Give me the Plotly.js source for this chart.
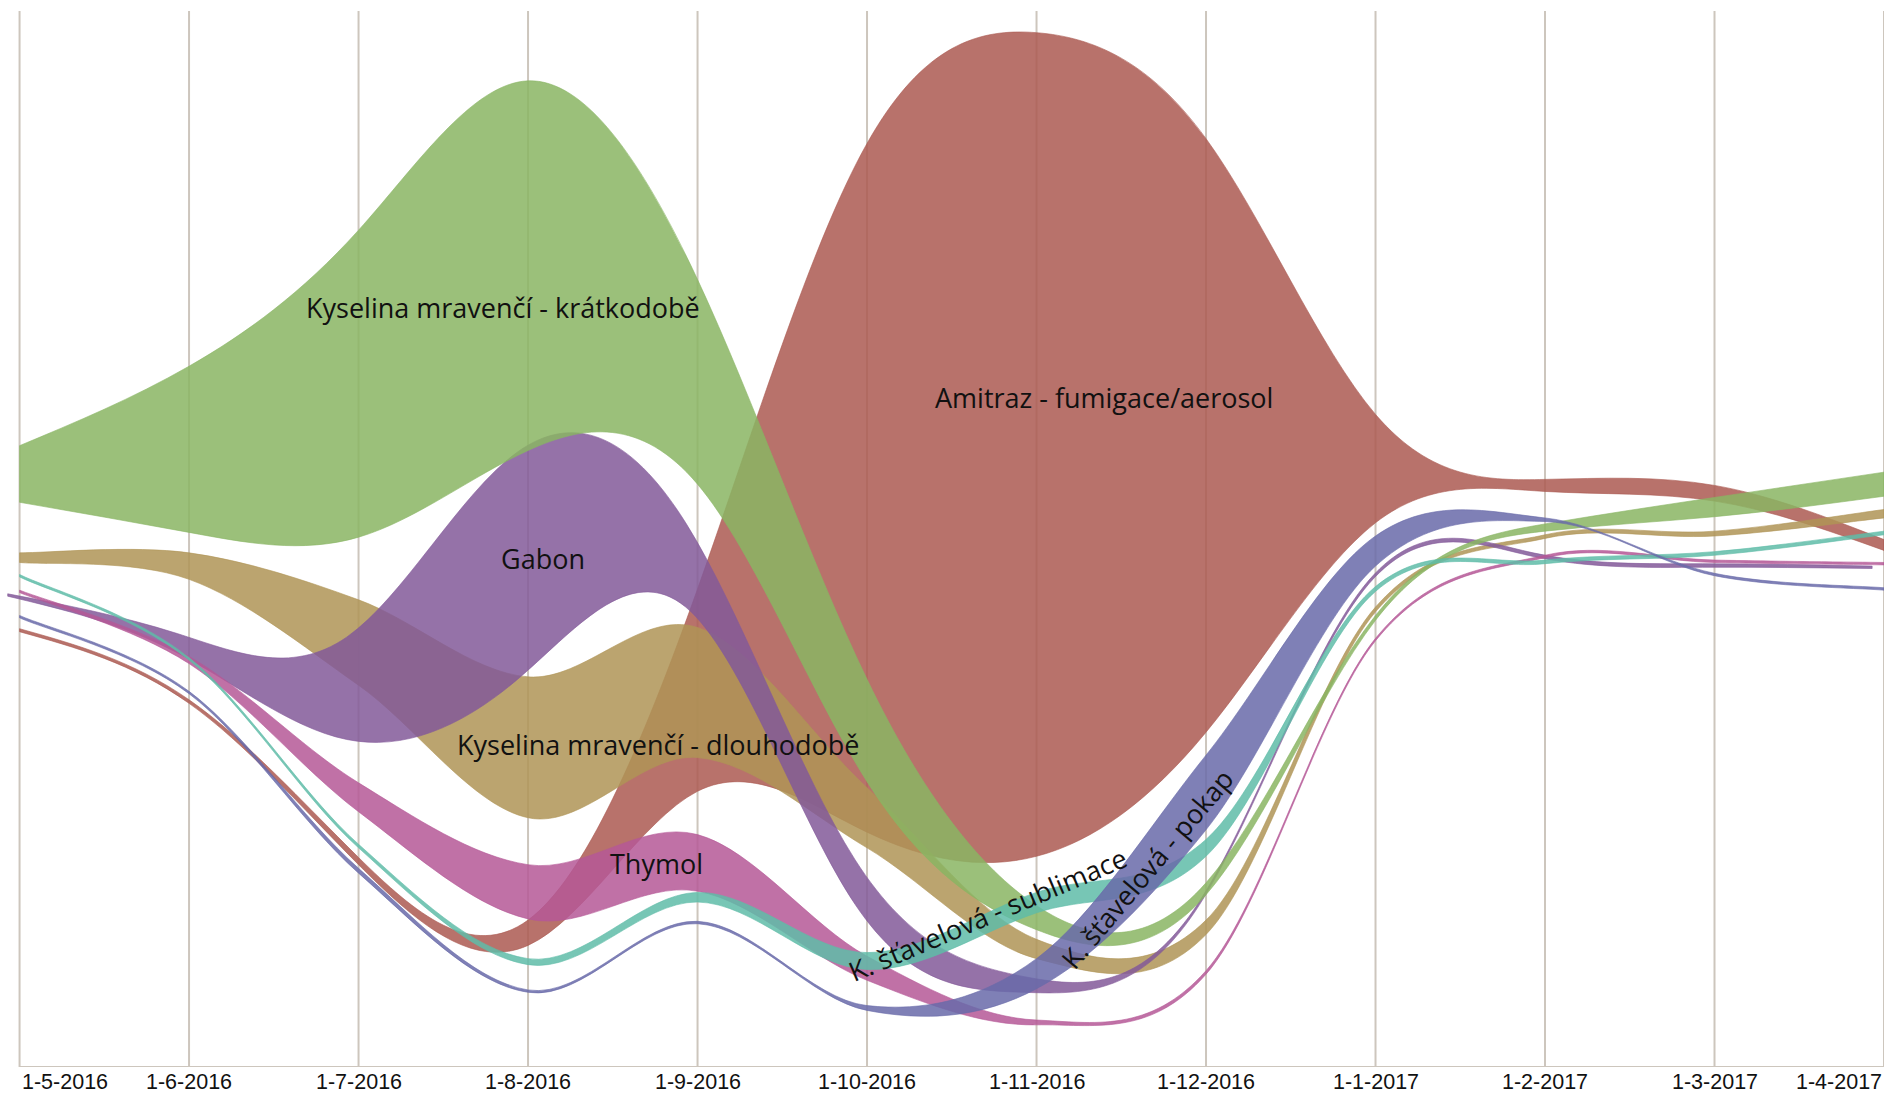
<!DOCTYPE html>
<html><head><meta charset="utf-8">
<script src="https://cdn.plot.ly/plotly-3.0.1.min.js"></script>
<style>html,body{margin:0;padding:0;background:#fff}#chart{width:1887px;height:1097px}</style>
</head><body><div id="chart"></div>
<script>
// month index 0 = 1-5-2016 ... 11 = 1-4-2017
const months = [0,1,2,3,4,5,6,7,8,9,10,11];
const gabonMonths = [-0.07,0.93,1.93,2.93,3.93,4.93,5.93,6.93,7.93,8.93,9.93,10.93];
const tickLabels = ['1-5-2016','1-6-2016','1-7-2016','1-8-2016','1-9-2016','1-10-2016','1-11-2016','1-12-2016','1-1-2017','1-2-2017','1-3-2017','1-4-2017'];

// band edges (height above the baseline) for each treatment
const amitrazTop      = [364, 305, 174, 122, 397, 767, 859, 771, 542, 488, 483, 438];
const amitrazBottom   = [361.5, 302, 168, 101, 229, 195, 175, 278, 452, 478, 470, 429];
const dlouhodobeTop   = [427, 427, 388, 324, 365, 232, 106, 122, 382, 442, 445, 463];
const dlouhodobeBottom= [419, 405, 317, 207, 257, 182, 90, 110, 378, 439, 441, 456];
const gabonTop        = [393, 360, 357, 510, 452, 172, 75, 131, 399, 427, 418, 416];
const gabonBottom     = [391, 344, 272, 321, 382, 135, 62, 128, 396, 424, 415, 414];
const kratkodobeTop   = [516, 582, 695, 819, 654, 322, 134, 153, 375, 451, 473, 494];
const kratkodobeBottom= [469, 444, 440, 512, 484, 237, 114, 143, 371, 445, 457, 474];
const thymolTop       = [396, 341, 236, 168, 193, 92, 39, 80, 356, 425, 421, 419];
const thymolBottom    = [394, 335, 212, 123, 146, 72, 35, 77, 354, 423, 419, 417];
const sublimaceTop    = [409, 340, 185, 90, 145, 95, 145, 189, 399, 421, 428, 445];
const sublimaceBottom = [407, 338, 182, 85, 137, 81, 128, 175, 395, 418, 425, 442];
const pokapTop        = [375, 312, 165, 64, 121, 51, 90, 259, 441, 456, 410, 398];
const pokapBottom     = [373, 310, 161, 62, 119, 47, 65, 197, 416, 453, 408, 396];

const series = [
  {name:'Amitraz - fumigace/aerosol', rgb:'171,89,81', x:months, top:amitrazTop, bottom:amitrazBottom, curve:'natural'},
  {name:'Kyselina mravenčí - dlouhodobě', rgb:'175,148,86', x:months, top:dlouhodobeTop, bottom:dlouhodobeBottom, curve:'cardinal'},
  {name:'Gabon', rgb:'131,89,153', x:gabonMonths, top:gabonTop, bottom:gabonBottom, curve:'natural'},
  {name:'Kyselina mravenčí - krátkodobě', rgb:'137,181,99', x:months, top:kratkodobeTop, bottom:kratkodobeBottom, curve:'natural'},
  {name:'Thymol', rgb:'181,88,150', x:months, top:thymolTop, bottom:thymolBottom, curve:'cardinal'},
  {name:'K. šťavelová - sublimace', rgb:'95,188,168', x:months, top:sublimaceTop, bottom:sublimaceBottom, curve:'cardinal'},
  {name:'K. šťavelová - pokap', rgb:'104,106,169', x:months, top:pokapTop, bottom:pokapBottom, curve:'cardinal'}
];

// natural cubic spline (as d3.curveNatural) -> Bezier commands
function naturalControls(v) {
  const n = v.length - 1, a = new Array(n), b = new Array(n), r = new Array(n);
  a[0] = 0; b[0] = 2; r[0] = v[0] + 2 * v[1];
  for (let i = 1; i < n - 1; ++i) { a[i] = 1; b[i] = 4; r[i] = 4 * v[i] + 2 * v[i + 1]; }
  a[n - 1] = 2; b[n - 1] = 7; r[n - 1] = 8 * v[n - 1] + v[n];
  for (let i = 1; i < n; ++i) { const m = a[i] / b[i - 1]; b[i] -= m; r[i] -= m * r[i - 1]; }
  a[n - 1] = r[n - 1] / b[n - 1];
  for (let i = n - 2; i >= 0; --i) a[i] = (r[i] - a[i + 1]) / b[i];
  b[n - 1] = (v[n] + a[n - 1]) / 2;
  for (let i = 0; i < n - 1; ++i) b[i] = 2 * v[i + 1] - a[i + 1];
  return [a, b];
}
function naturalCommands(xs, ys) {
  const cx = naturalControls(xs), cy = naturalControls(ys);
  let p = '';
  for (let i = 0; i < xs.length - 1; i++)
    p += ' C' + cx[0][i] + ',' + cy[0][i] + ' ' + cx[1][i] + ',' + cy[1][i] + ' ' + xs[i + 1] + ',' + ys[i + 1];
  return p;
}
// cardinal spline, tension 0 (as d3.curveCardinal) -> Bezier commands
function cardinalCommands(xs, ys) {
  const n = xs.length;
  let p = '';
  for (let i = 0; i < n - 1; i++) {
    const xp = i > 0 ? xs[i-1] : xs[i], yp = i > 0 ? ys[i-1] : ys[i];
    const xn = i < n - 2 ? xs[i+2] : xs[i+1], yn = i < n - 2 ? ys[i+2] : ys[i+1];
    p += ' C' + (xs[i] + (xs[i+1] - xp) / 6) + ',' + (ys[i] + (ys[i+1] - yp) / 6) + ' ' +
         (xs[i+1] - (xn - xs[i]) / 6) + ',' + (ys[i+1] - (yn - ys[i]) / 6) + ' ' + xs[i+1] + ',' + ys[i+1];
  }
  return p;
}
function bandPath(xs, top, bottom, curve) {
  const f = curve === 'natural' ? naturalCommands : cardinalCommands;
  const rx = xs.slice().reverse(), rb = bottom.slice().reverse();
  return 'M' + xs[0] + ',' + top[0] + f(xs, top) + ' L' + rx[0] + ',' + rb[0] + f(rx, rb) + ' Z';
}

const gridColor = '#cdc6bd';
const shapes = months.map(m => ({type:'line', xref:'x', yref:'y', x0:m, x1:m, y0:0, y1:877,
  line:{color:gridColor, width:2}, layer:'below'}));
shapes.push({type:'line', xref:'x', yref:'y', x0:0, x1:11, y0:0, y1:0, line:{color:gridColor, width:2}, layer:'below'});
series.forEach(s => {
  const c = 'rgba(' + s.rgb + ',0.85)';
  shapes.push({type:'path', xref:'x', yref:'y', path:bandPath(s.x, s.top, s.bottom, s.curve),
    fillcolor:c, line:{color:c, width:0.7}, layer:'above', name:s.name});
});

// invisible carriers so the series also exist as traces (hover names)
const traces = series.map(s => ({x:s.x, y:s.top, type:'scatter', mode:'markers', name:s.name,
  marker:{size:1, opacity:0}, hoverinfo:'name', showlegend:false}));

const labelFont = {family:'Open Sans, Noto Sans, sans-serif', size:27, color:'#111'};
const seriesLabels = [
  {text:'Kyselina mravenčí - krátkodobě', x:2.853, y:631, angle:0},
  {text:'Amitraz - fumigace/aerosol', x:6.398, y:556, angle:0},
  {text:'Gabon', x:3.088, y:422, angle:0},
  {text:'Kyselina mravenčí - dlouhodobě', x:3.767, y:268, angle:0},
  {text:'Thymol', x:3.755, y:169, angle:0},
  {text:'K. šťavelová - sublimace', x:5.708, y:127, angle:-23},
  {text:'K. šťavelová - pokap', x:6.652, y:165, angle:-50}
];
const annotations = seriesLabels.map(l => ({text:l.text, x:l.x, y:l.y, xref:'x', yref:'y', showarrow:false,
  textangle:l.angle, font:labelFont, xanchor:'center', yanchor:'middle'}));
tickLabels.forEach((t, i) => {
  annotations.push({text:t, x:months[i], y:0, xref:'x', yref:'y', showarrow:false, yanchor:'top', yshift:-1,
    xanchor: i === 0 ? 'left' : (i === tickLabels.length - 1 ? 'right' : 'center'),
    font:{family:'Liberation Sans, Arial, sans-serif', size:21.5, color:'#111'}});
});

const layout = {
  width:1887, height:1097,
  margin:{l:6, r:3, t:11, b:30},
  paper_bgcolor:'#fff', plot_bgcolor:'#fff',
  xaxis:{range:[-0.08, 11], showgrid:false, zeroline:false, showline:false, showticklabels:false, ticks:''},
  yaxis:{range:[0, 877], showgrid:false, zeroline:false, showline:false, showticklabels:false, ticks:''},
  shapes:shapes, annotations:annotations, showlegend:false
};
Plotly.newPlot('chart', traces, layout, {displayModeBar:false, staticPlot:true});
</script></body></html>
